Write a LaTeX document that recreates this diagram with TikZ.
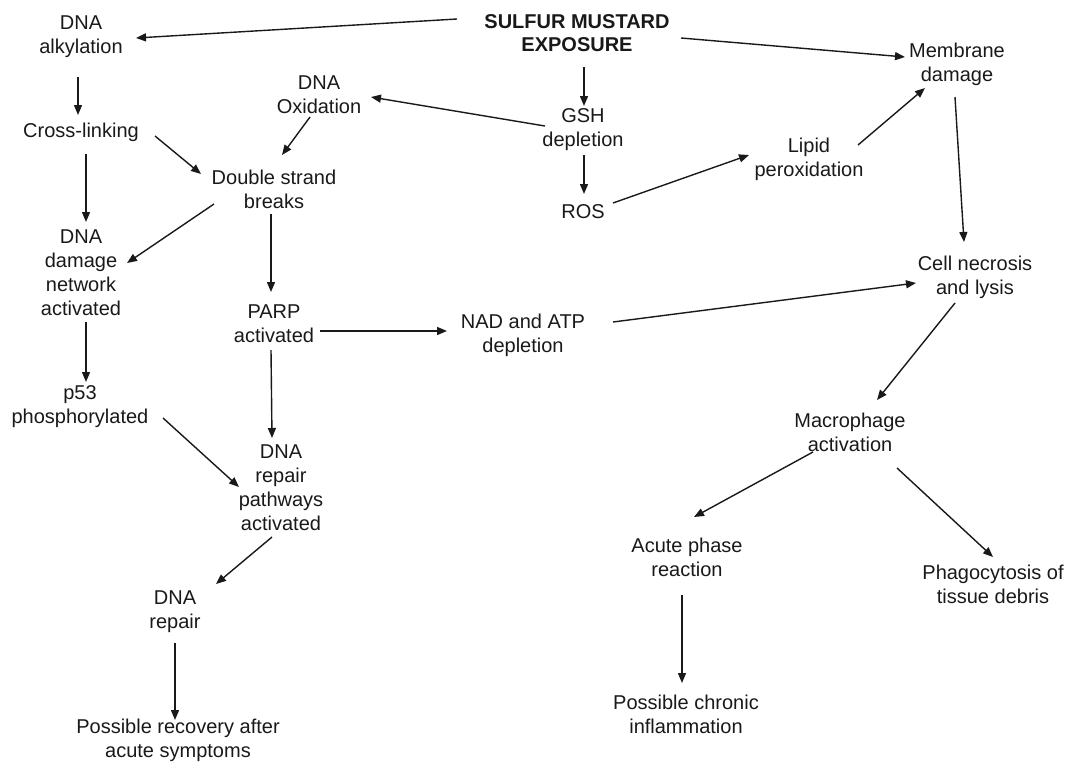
\documentclass[tikz,border=0pt]{standalone}
\usepackage{fontspec}
\setmainfont{Liberation Sans}
\usetikzlibrary{arrows.meta}

\tikzset{
    box/.style={align=center, inner sep=0pt, text=black!90, font=\fontsize{20}{24}\selectfont},
    topbox/.style={box, font=\fontsize{20}{23}\selectfont\bfseries},
    arr/.style={draw=black!90, line width=1.4pt, -{Triangle[length=10pt,width=8pt]}}
}

\begin{document}
\begin{tikzpicture}[x=1pt, y=-1pt]
                \useasboundingbox (0,0) rectangle (1066,761);

                \node[topbox] (sm) at (577,33) {SULFUR MUSTARD\\EXPOSURE};
                \node[box] (alk) at (81,37) {DNA\\alkylation};
                \node[box] (memb) at (957,64) {Membrane\\damage};
                \node[box] (ox) at (319,95) {DNA\\Oxidation};
                \node[box] (gsh) at (583,130) {GSH\\depletion};
                \node[box] (cross) at (81,132) {Cross-linking};
                \node[box] (lipid) at (809,159) {Lipid\\peroxidation};
                \node[box] (dsb) at (274,189) {Double strand\\breaks};
                \node[box] (ros) at (583,212) {ROS};
                \node[box] (dmg) at (81,273) {DNA\\damage\\network\\activated};
                \node[box] (cell) at (975,277) {Cell necrosis\\and lysis};
                \node[box] (parp) at (274,324) {PARP\\activated};
                \node[box] (nad) at (523,335) {NAD and ATP\\depletion};
                \node[box] (p53) at (80,407) {p53\\phosphorylated};
                \node[box] (mac) at (850,432) {Macrophage\\activation};
                \node[box] (path) at (281,488) {DNA\\repair\\pathways\\activated};
                \node[box] (acute) at (687,557) {Acute phase\\reaction};
                \node[box] (phago) at (993,584) {Phagocytosis of\\tissue debris};
                \node[box] (rep) at (175,612) {DNA\\repair};
                \node[box] (chronic) at (686,714) {Possible chronic\\inflammation};
                \node[box] (recov) at (178,740) {Possible recovery after\\acute symptoms};

                % from the exposure
                \draw[arr] ([shift={(-120,-14)}]sm.center) -- ([shift={(55,1)}]alk.center);
                \draw[arr] ([shift={(104,5)}]sm.center) -- ([shift={(-52,-7)}]memb.center);
                \draw[arr] ([shift={(7,34)}]sm.center) -- ([shift={(1,-24)}]gsh.center);
                \draw[arr] ([shift={(-38,-4)}]gsh.center) -- ([shift={(52,2)}]ox.center);
                \draw[arr] ([shift={(1,25)}]gsh.center) -- ([shift={(1,-18)}]ros.center);

                % left branch
                \draw[arr] ([shift={(-3,40)}]alk.center) -- ([shift={(-3,-17)}]cross.center);
                \draw[arr] ([shift={(5,22)}]cross.center) -- ([shift={(5,-51)}]dmg.center);
                \draw[arr] ([shift={(74,4)}]cross.center) -- ([shift={(-73,-15)}]dsb.center);
                \draw[arr] ([shift={(-9,22)}]ox.center) -- ([shift={(8,-34)}]dsb.center);
                \draw[arr] ([shift={(-60,15)}]dsb.center) -- ([shift={(46,-10)}]dmg.center);
                \draw[arr] ([shift={(-3,25)}]dsb.center) -- ([shift={(-3,-32)}]parp.center);
                \draw[arr] ([shift={(5,49)}]dmg.center) -- ([shift={(6,-25)}]p53.center);
                \draw[arr] ([shift={(83,11)}]p53.center) -- ([shift={(-42,-1)}]path.center);
                \draw[arr] ([shift={(-3,26)}]parp.center) -- ([shift={(-9,-50)}]path.center);
                \draw[arr] ([shift={(-9,49)}]path.center) -- ([shift={(41,-28)}]rep.center);
                \draw[arr] ([shift={(0,31)}]rep.center) -- ([shift={(-3,-20)}]recov.center);

                % right branch
                \draw[arr] ([shift={(30,-9)}]ros.center) -- ([shift={(-60,-4)}]lipid.center);
                \draw[arr] ([shift={(49,-14)}]lipid.center) -- ([shift={(-32,24)}]memb.center);
                \draw[arr] ([shift={(-2,33)}]memb.center) -- ([shift={(-11,-35)}]cell.center);
                \draw[arr] ([shift={(46,7)}]parp.center) -- ([shift={(-76,-4)}]nad.center);
                \draw[arr] ([shift={(90,-13)}]nad.center) -- ([shift={(-59,6)}]cell.center);
                \draw[arr] ([shift={(-20,26)}]cell.center) -- ([shift={(27,-32)}]mac.center);
                \draw[arr] ([shift={(-37,20)}]mac.center) -- ([shift={(7,-40)}]acute.center);
                \draw[arr] ([shift={(47,36)}]mac.center) -- ([shift={(0,-27)}]phago.center);
                \draw[arr] ([shift={(-5,38)}]acute.center) -- ([shift={(-4,-31)}]chronic.center);
\end{tikzpicture}
\end{document}
